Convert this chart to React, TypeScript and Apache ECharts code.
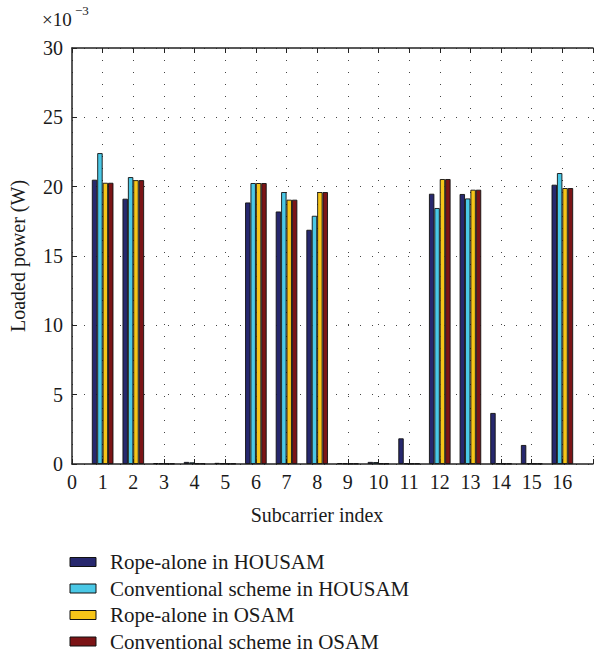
import React, { useEffect, useRef } from "react";
import * as echarts from "echarts";

const subcarriers = [1, 2, 3, 4, 5, 6, 7, 8, 9, 10, 11, 12, 13, 14, 15, 16];
const ropeHousam = [20.5, 19.13, 0.06, 0.15, 0.08, 18.86, 18.21, 16.89, 0.06, 0.15, 1.85, 19.49, 19.47, 3.68, 1.37, 20.14];
const convHousam = [22.42, 20.69, 0.04, 0.12, 0.04, 20.26, 19.61, 17.9, 0.04, 0.14, 0.05, 18.46, 19.15, 0.05, 0.05, 20.98];
const ropeOsam = [20.28, 20.47, 0.03, 0.04, 0.03, 20.26, 19.06, 19.61, 0.03, 0.04, 0.03, 20.55, 19.78, 0.03, 0.03, 19.9];
const convOsam = [20.28, 20.47, 0.03, 0.04, 0.03, 20.26, 19.06, 19.61, 0.03, 0.04, 0.03, 20.55, 19.78, 0.03, 0.03, 19.9];
const seriesNames = [
  "Rope-alone in HOUSAM",
  "Conventional scheme in HOUSAM",
  "Rope-alone in OSAM",
  "Conventional scheme in OSAM",
];
const colors = ["#27286e", "#4ac8e6", "#f6c519", "#7c1416"];

const FONT = "'Liberation Serif', 'DejaVu Serif', serif";

export default function App() {
  const ref = useRef<HTMLDivElement>(null);
  useEffect(() => {
    if (!ref.current) return;
    const chart = echarts.init(ref.current, undefined, { renderer: "svg" });
    const all = [ropeHousam, convHousam, ropeOsam, convOsam];
    const dotted = { color: "#444", width: 1, type: [1, 11] as number[] };
    const legendY0 = 562;
    const legendStep = 26.5;
    const legendItems: any[] = [];
    seriesNames.forEach((name, i) => {
      const cy = legendY0 + i * legendStep;
      legendItems.push({
        type: "rect",
        shape: { x: 70, y: cy - 4.5, width: 26, height: 9 },
        style: { fill: colors[i], stroke: "#111", lineWidth: 1 },
      });
      legendItems.push({
        type: "text",
        x: 110,
        y: cy,
        style: {
          text: name,
          font: `21px ${FONT}`,
          fill: "#1a1a1a",
          verticalAlign: "middle",
        },
      });
    });
    chart.setOption({
      animation: false,
      backgroundColor: "#fff",
      textStyle: { fontFamily: FONT },
      grid: { left: 71, top: 48, right: -4, bottom: 190 },
      graphic: [
        { type: "text", left: 42, top: 10, style: { text: "×10", font: `19px ${FONT}`, fill: "#1a1a1a" } },
        { type: "text", left: 75, top: 4, style: { text: "−3", font: `13px ${FONT}`, fill: "#1a1a1a" } },
        ...legendItems,
      ],
      xAxis: [
        {
          type: "value",
          min: 0,
          max: 17,
          interval: 1,
          name: "Subcarrier index",
          nameLocation: "middle",
          nameGap: 41,
          nameTextStyle: { fontFamily: FONT, fontSize: 20, color: "#1a1a1a", padding: [0, 31, 0, 0] },
          axisLine: { show: true, onZero: false, lineStyle: { color: "#222", width: 1.5 } },
          axisTick: { show: true, inside: true, length: 5, lineStyle: { color: "#222" } },
          axisLabel: {
            fontFamily: FONT,
            fontSize: 20,
            color: "#1a1a1a",
            margin: 8,
            formatter: (v: number) => (v >= 17 ? "" : String(v)),
          },
          splitLine: { show: true, lineStyle: dotted },
        },
        {
          type: "value",
          position: "top",
          min: 0,
          max: 17,
          interval: 1,
          axisLine: { show: true, onZero: false, lineStyle: { color: "#222", width: 1.5 } },
          axisTick: { show: true, inside: true, length: 5, lineStyle: { color: "#222" } },
          axisLabel: { show: false },
          splitLine: { show: false },
        },
      ],
      yAxis: {
        type: "value",
        min: 0,
        max: 30,
        interval: 5,
        name: "Loaded power (W)",
        nameLocation: "middle",
        nameGap: 44,
        nameTextStyle: { fontFamily: FONT, fontSize: 20, color: "#1a1a1a" },
        axisLine: { show: true, lineStyle: { color: "#222", width: 1.5 } },
        axisTick: { show: true, inside: true, length: 5, lineStyle: { color: "#222" } },
        axisLabel: { fontFamily: FONT, fontSize: 20, color: "#1a1a1a", margin: 9 },
        splitLine: { show: true, lineStyle: dotted },
      },
      series: all.map((vals, i) => ({
        name: seriesNames[i],
        type: "bar",
        xAxisIndex: 0,
        barWidth: 5.4,
        barGap: "0%",
        itemStyle: { color: colors[i], borderColor: "#111", borderWidth: 0.9 },
        data: subcarriers.map((s, j) => [s, vals[j]]),
      })),
    });
    return () => chart.dispose();
  }, []);
  return (
    <div
      ref={ref}
      style={{ position: "fixed", left: 0, top: 0, width: 596, height: 654, background: "#fff" }}
    />
  );
}
